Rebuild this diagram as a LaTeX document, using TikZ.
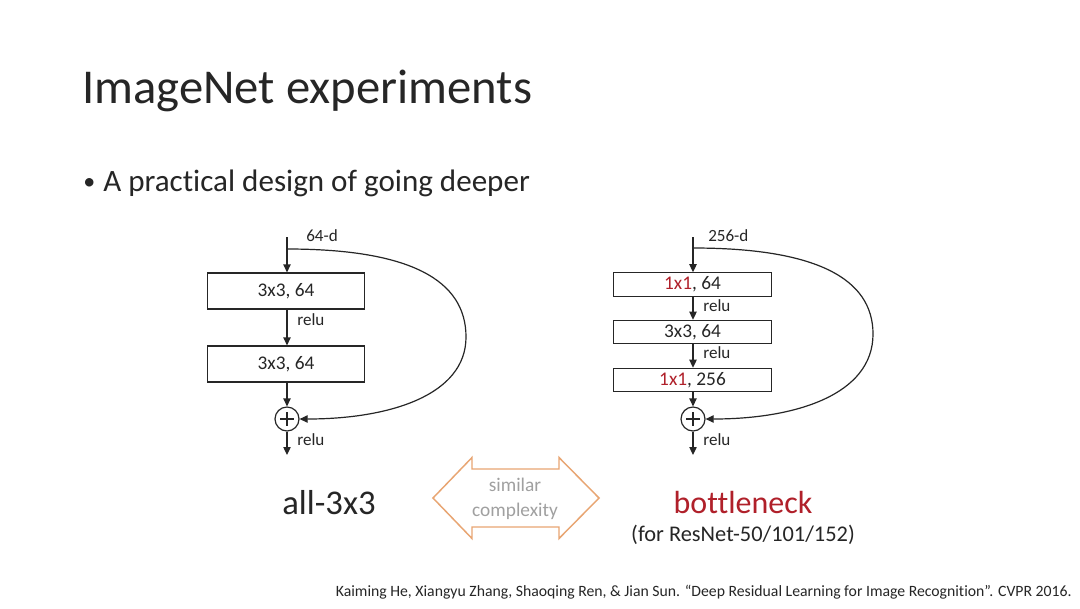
\documentclass[tikz,border=0pt]{standalone}
\usepackage{fontspec}
\setmainfont{Carlito}[Ligatures={NoCommon}]
\usetikzlibrary{arrows.meta}
\definecolor{txt}{HTML}{262626}
\definecolor{bred}{HTML}{B0202A}
\definecolor{orng}{HTML}{E8A572}
\definecolor{gry}{HTML}{A0A0A0}
\tikzset{
  layer/.style={draw=txt, line width=0.9pt, minimum width=118pt, inner sep=0pt, font=\fontsize{14.5}{16}\selectfont, text=txt},
  tall/.style={minimum height=27pt},
  short/.style={minimum height=17.5pt},
  addnode/.style={draw=txt, circle, line width=0.9pt, minimum size=18pt, inner sep=0pt},
  conn/.style={draw=txt, line width=0.9pt, -{Triangle[length=6pt,width=5.5pt]}},
  lbl/.style={font=\fontsize{12.8}{14}\selectfont, text=txt, inner sep=0pt, anchor=west},
}
\begin{document}
\begin{tikzpicture}[x=0.75pt,y=-0.75pt]
\useasboundingbox (0,0) rectangle (1080,608);
\fill[white] (0,0) rectangle (1080,608);

% Title and bullet
\node[anchor=west, inner sep=0pt, text=txt, font=\fontsize{36.5}{40}\selectfont] (title) at (82,91) {ImageNet experiments};
\node[anchor=west, inner sep=0pt, text=txt, font=\fontsize{18}{22}\selectfont] (dot) at (83,184) {•};
\node[anchor=west, inner sep=0pt, text=txt, font=\fontsize{23.3}{27}\selectfont] (bullet) at (103,183) {A practical design of going deeper};

% Left block (all-3x3)
\coordinate (Ltop) at (287,237);
\coordinate (Lsplit) at (287,249);
\node[layer, tall] (L1) at (286,291) {3x3, 64};
\node[layer, tall] (L2) at (286,364) {3x3, 64};
\node[addnode] (Ladd) at (287,419) {};
\draw[txt, line width=0.9pt] ([yshift=-5pt]Ladd.center) -- ([yshift=5pt]Ladd.center) ([xshift=-5pt]Ladd.center) -- ([xshift=5pt]Ladd.center);
\coordinate (Lbot) at (287,455);
\draw[conn] (Ltop) -- (L1.north -| Ltop);
\draw[conn] (L1.south -| Ltop) -- (L2.north -| Ltop);
\draw[conn] (L2.south -| Ltop) -- (Ladd.north);
\draw[conn] (Ladd.south) -- (Lbot);
\draw[conn] (Lsplit) .. controls (410,249) and (466,280) .. (466,337) .. controls (466,395) and (390,419) .. (Ladd.east);
\node[lbl] (Lin) at (306,236) {64-d};
\node[lbl] (Lr1) at (297,320) {relu};
\node[lbl] (Lr2) at (297,440) {relu};
\node[text=txt, font=\fontsize{26}{30}\selectfont, inner sep=0pt] (Lname) at (329,503) {all-3x3};

% Right block (bottleneck)
\coordinate (Rtop) at (693,237);
\coordinate (Rsplit) at (693,248);
\node[layer, short] (R1) at (692.5,284.5) {\textcolor{bred}{1x1}, 64};
\node[layer, short] (R2) at (692.5,332) {3x3, 64};
\node[layer, short] (R3) at (692.5,380) {\textcolor{bred}{1x1}, 256};
\node[addnode] (Radd) at (693,419) {};
\draw[txt, line width=0.9pt] ([yshift=-5pt]Radd.center) -- ([yshift=5pt]Radd.center) ([xshift=-5pt]Radd.center) -- ([xshift=5pt]Radd.center);
\coordinate (Rbot) at (693,455);
\draw[conn] (Rtop) -- (R1.north -| Rtop);
\draw[conn] (R1.south -| Rtop) -- (R2.north -| Rtop);
\draw[conn] (R2.south -| Rtop) -- (R3.north -| Rtop);
\draw[conn] (R3.south -| Rtop) -- (Radd.north);
\draw[conn] (Radd.south) -- (Rbot);
\draw[conn] (Rsplit) .. controls (815,248) and (873,278) .. (873,334) .. controls (873,395) and (795,419) .. (Radd.east);
\node[lbl] (Rin) at (708,236) {256-d};
\node[lbl] (Rr1) at (703,306) {relu};
\node[lbl] (Rr2) at (703,353) {relu};
\node[lbl] (Rr3) at (703,440) {relu};
\node[text=bred, font=\fontsize{24}{28}\selectfont, inner sep=0pt] (Rname) at (743,502) {bottleneck};
\node[text=txt, font=\fontsize{16.8}{20}\selectfont, inner sep=0pt] (Rsub) at (743,535) {(for ResNet-50/101/152)};

% Double arrow
\draw[orng, line width=1.1pt, line join=miter]
  (433,498) -- (472,457.5) -- (472,469) -- (559,469) -- (559,457.5) -- (599,498)
  -- (559,538.5) -- (559,527) -- (472,527) -- (472,538.5) -- cycle;
\node[text=gry, align=center, font=\fontsize{14.5}{18.5}\selectfont, inner sep=0pt] (sim) at (515,499) {similar\\complexity};

% Citation
\node[anchor=east, text=txt, inner sep=0pt, font=\fontsize{11.8}{14}\selectfont] (cite) at (1072,592) {Kaiming He, Xiangyu Zhang, Shaoqing Ren, \& Jian Sun. “Deep Residual Learning for Image Recognition”. CVPR 2016.};
\end{tikzpicture}
\end{document}
